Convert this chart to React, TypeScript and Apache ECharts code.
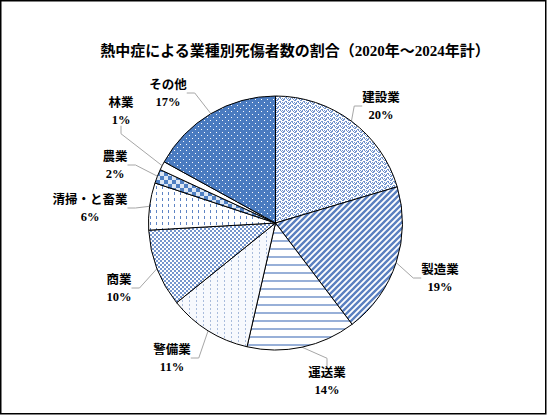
import * as echarts from "echarts";
import { useEffect, useRef } from "react";

const categories = ["建設業", "製造業", "運送業", "警備業", "商業", "清掃・と畜業", "農業", "林業", "その他"];
const shares = [20.4, 19.3, 13.9, 10.6, 9.9, 6.0, 1.8, 1.1, 17.0];
const titleText = "熱中症による業種別死傷者数の割合（2020年～2024年計）";

// where Excel put each data label (text centre), in pixels
const labelSpots: [number, number][] = [
  [381, 106],
  [440, 278],
  [327, 381],
  [172, 358],
  [119, 288],
  [90, 208],
  [115, 165],
  [121, 111],
  [168, 93]
];

type Painter = (ctx: CanvasRenderingContext2D) => void;

function tile(w: number, h: number, bg: string, paint: Painter) {
  const canvas = document.createElement("canvas");
  canvas.width = w;
  canvas.height = h;
  const ctx = canvas.getContext("2d")!;
  ctx.fillStyle = bg;
  ctx.fillRect(0, 0, w, h);
  paint(ctx);
  return { image: canvas, repeat: "repeat", imageWidth: w, imageHeight: h } as any;
}

function buildFills() {
  const confetti = tile(6, 4, "#ffffff", (ctx) => {
    ctx.fillStyle = "#7294cd";
    ctx.fillRect(0, 0, 2, 1);
    ctx.fillRect(3, 1, 2, 1);
    ctx.fillRect(0, 2, 1, 1);
    ctx.fillRect(2, 2, 1, 1);
    ctx.fillRect(4, 2, 1, 1);
    ctx.fillRect(1, 3, 2, 1);
    ctx.fillRect(5, 3, 1, 1);
  });
  const diagonal = tile(6, 6, "#ffffff", (ctx) => {
    ctx.strokeStyle = "#5b80c0";
    ctx.lineWidth = 2.4;
    ctx.beginPath();
    ctx.moveTo(-1, 7);
    ctx.lineTo(7, -1);
    ctx.moveTo(-4, 4);
    ctx.lineTo(4, -4);
    ctx.moveTo(2, 10);
    ctx.lineTo(10, 2);
    ctx.stroke();
  });
  const horizontal = tile(8, 8, "#ffffff", (ctx) => {
    ctx.fillStyle = "#98b0d8";
    ctx.fillRect(0, 0, 8, 2);
  });
  const lightDash = tile(7, 4, "#f7f9fd", (ctx) => {
    ctx.fillStyle = "#a9bcdc";
    ctx.fillRect(0, 0, 1, 2);
  });
  const dots = tile(4, 4, "#ffffff", (ctx) => {
    ctx.fillStyle = "#7596cd";
    ctx.fillRect(0, 0, 2, 2);
    ctx.fillRect(2, 2, 2, 2);
  });
  const darkDash = tile(6, 6, "#ffffff", (ctx) => {
    ctx.fillStyle = "#5f84c4";
    ctx.fillRect(0, 0, 1, 3);
  });
  const checker = tile(8, 8, "#dce6f4", (ctx) => {
    ctx.fillStyle = "#4f7fc2";
    ctx.fillRect(0, 0, 4, 4);
    ctx.fillRect(4, 4, 4, 4);
  });
  const sparse = tile(6, 6, "#4a7bc0", (ctx) => {
    ctx.fillStyle = "#ffffff";
    ctx.fillRect(0, 0, 1, 1);
    ctx.fillRect(3, 3, 1, 1);
  });
  return [confetti, diagonal, horizontal, lightDash, dots, darkDash, checker, "#ffffff", sparse];
}

const fontFamily = '"Liberation Serif", "Noto Sans CJK JP", serif';

export default function App() {
  const ref = useRef<HTMLDivElement | null>(null);

  useEffect(() => {
    document.body.style.margin = "0";
    if (!ref.current) {
      return;
    }
    const chart = echarts.init(ref.current, undefined, { renderer: "svg" });
    const fills = buildFills();
    chart.setOption({
      animation: false,
      backgroundColor: "#ffffff",
      title: {
        text: titleText,
        left: 290,
        top: 38,
        textAlign: "center",
        textStyle: { fontFamily, fontSize: 15, fontWeight: "bold", color: "#000" }
      },
      graphic: [
        {
          type: "rect",
          shape: { x: 0.75, y: 0.75, width: 545, height: 413 },
          style: { fill: "none", stroke: "#000", lineWidth: 1.5 }
        }
      ],
      series: [
        {
          type: "pie",
          center: [275.5, 223],
          radius: 127,
          startAngle: 90,
          clockwise: true,
          percentPrecision: 0,
          data: categories.map((name, i) => ({
            name,
            value: shares[i],
            itemStyle: { color: fills[i] }
          })),
          itemStyle: { borderColor: "#000", borderWidth: 1 },
          label: {
            show: true,
            position: "outside",
            formatter: "{a|{b}}\n{a|{d}%}",
            color: "#000",
            rich: {
              a: { align: "center", fontFamily, fontSize: 12.5, fontWeight: "bold", lineHeight: 17, color: "#000" }
            }
          },
          labelLine: {
            show: true,
            length: 10,
            length2: 8,
            lineStyle: { color: "#a6a6a6", width: 1 }
          },
          labelLayout: (params: any) => {
            const spot = labelSpots[params.dataIndex];
            return { x: spot[0], y: spot[1], align: "center", verticalAlign: "middle" };
          },
          emphasis: { disabled: true }
        }
      ]
    });
    return () => {
      chart.dispose();
    };
  }, []);

  return <div ref={ref} style={{ width: 549, height: 417 }} />;
}
